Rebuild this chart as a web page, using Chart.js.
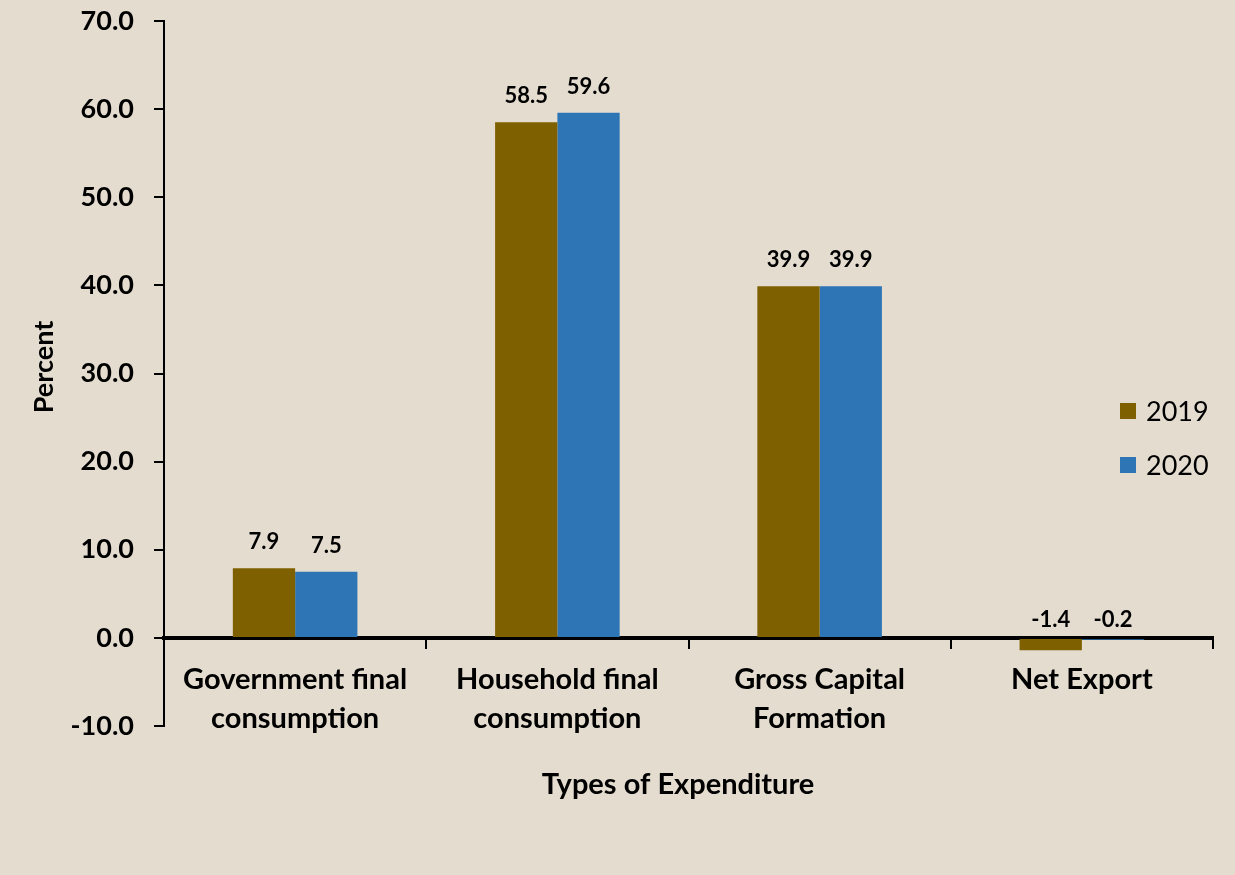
<!DOCTYPE html>
<html>
<head>
<meta charset="utf-8">
<script src="https://cdn.jsdelivr.net/npm/chart.js@4.4.1/dist/chart.umd.min.js"></script>
<style>
  html, body { margin: 0; padding: 0; background: #e3dccf; }
  canvas { display: block; }
</style>
</head>
<body>
<canvas id="myChart" width="1235" height="875"></canvas>
<script>
const categories = [
    ['Government final', 'consumption'],
    ['Household final', 'consumption'],
    ['Gross Capital', 'Formation'],
    'Net Export'
];
const values2019 = [7.9, 58.5, 39.9, -1.4];
const values2020 = [7.5, 59.6, 39.9, -0.2];
const seriesNames = ['2019', '2020'];
const seriesColors = ['#7f6000', '#2e75b6'];

const FONT = 'Lato, "Open Sans", sans-serif';

// beige canvas fill behind everything
const backdrop = {
    id: 'backdrop',
    beforeDraw(chart) {
        const c = chart.ctx;
        c.save();
        c.fillStyle = '#e3dccf';
        c.fillRect(0, 0, chart.width, chart.height);
        c.restore();
    }
};

// value labels above each bar, axis titles and the legend on the right
const extras = {
    id: 'extras',
    afterDatasetsDraw(chart) {
        const c = chart.ctx;
        const yScale = chart.scales.y;
        c.save();
        c.fillStyle = '#000';
        c.font = 'bold 22px ' + FONT;
        c.textAlign = 'center';
        c.textBaseline = 'alphabetic';
        chart.data.datasets.forEach((ds, i) => {
            chart.getDatasetMeta(i).data.forEach((bar, j) => {
                const v = ds.data[j];
                const y = v >= 0 ? yScale.getPixelForValue(v) - 19 : yScale.getPixelForValue(0) - 11;
                c.fillText(v.toFixed(1), bar.x, y);
            });
        });

        // axis titles
        c.font = 'bold 29px ' + FONT;
        c.textBaseline = 'middle';
        c.fillText('Types of Expenditure', 678, 785);
        c.save();
        c.translate(44, 367);
        c.rotate(-Math.PI / 2);
        c.font = 'bold 27px ' + FONT;
        c.fillText('Percent', 0, 0);
        c.restore();

        // legend
        c.font = '27px ' + FONT;
        c.textAlign = 'left';
        chart.data.datasets.forEach((ds, i) => {
            const cy = 411 + i * 54;
            c.fillStyle = ds.backgroundColor;
            c.fillRect(1120, cy - 8, 16, 16);
            c.fillStyle = '#000';
            c.fillText(ds.label, 1146, cy + 1);
        });
        c.restore();
    }
};

new Chart(document.getElementById('myChart'), {
    type: 'bar',
    data: {
        labels: categories,
        datasets: [
            { label: seriesNames[0], data: values2019, backgroundColor: seriesColors[0] },
            { label: seriesNames[1], data: values2020, backgroundColor: seriesColors[1] }
        ]
    },
    options: {
        responsive: false,
        maintainAspectRatio: false,
        animation: false,
        datasets: {
            bar: { categoryPercentage: 0.475, barPercentage: 1.0, borderWidth: 0 }
        },
        layout: {
            padding: { left: 0, top: 21, right: 22, bottom: 149 }
        },
        scales: {
            x: {
                position: { y: 0 },
                grid: {
                    offset: true,
                    drawOnChartArea: false,
                    drawTicks: true,
                    tickLength: 9,
                    color: '#000',
                    lineWidth: 2
                },
                border: { display: true, color: '#000', width: 4 },
                ticks: {
                    color: '#000',
                    padding: 13,
                    maxRotation: 0,
                    autoSkip: false,
                    font: { family: FONT, size: 29, weight: 'bold', lineHeight: 1.36 }
                }
            },
            y: {
                min: -10,
                max: 70,
                afterFit(scale) {
                    scale.width = 164;
                    scale.paddingTop = 0;
                    scale.paddingBottom = 0;
                },
                grid: {
                    drawOnChartArea: false,
                    drawTicks: true,
                    tickLength: 10,
                    color: '#000',
                    lineWidth: 2
                },
                border: { display: true, color: '#000', width: 2 },
                ticks: {
                    stepSize: 10,
                    color: '#000',
                    padding: 20,
                    font: { family: FONT, size: 27, weight: 'bold' },
                    callback: v => v.toFixed(1)
                }
            }
        },
        plugins: {
            legend: { display: false },
            tooltip: { enabled: false }
        }
    },
    plugins: [backdrop, extras]
});
</script>
</body>
</html>
